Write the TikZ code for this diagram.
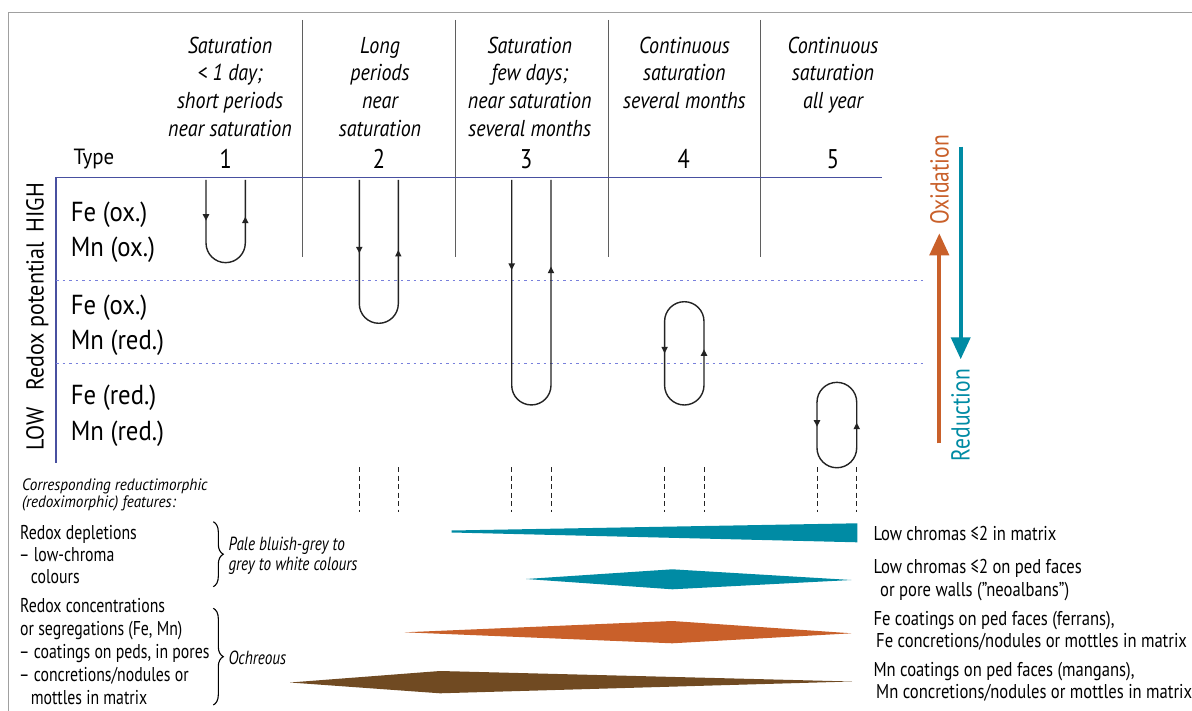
\documentclass[tikz,border=0pt]{standalone}
\usepackage{fontspec}
\setmainfont{PT Sans}[FakeStretch=0.83]
\newfontfamily\leftfont{PT Sans}[FakeStretch=0.79]
\newfontfamily\capfont{PT Sans}[FakeStretch=0.87]
\newfontfamily\smallfont{PT Sans}[FakeStretch=0.92]
\newfontfamily\widefont{PT Sans}[FakeStretch=0.9]
\newfontfamily\typefont{PT Sans}[FakeStretch=0.95]
\newfontfamily\bracefont{PT Sans}[FakeStretch=0.8]
\usetikzlibrary{arrows.meta,decorations.pathreplacing}

\definecolor{framegrey}{RGB}{160,160,160}
\definecolor{divgrey}{RGB}{95,95,95}
\definecolor{axisblue}{RGB}{72,80,160}
\definecolor{dotblue}{RGB}{120,128,220}
\definecolor{loopink}{RGB}{35,35,35}
\definecolor{tealc}{RGB}{0,139,164}
\definecolor{orangec}{RGB}{201,96,42}
\definecolor{brownc}{RGB}{112,74,34}

% small filled arrow tips on the redox loops
\newcommand\looptipdown[2]{\fill[loopink] (#1-3.3,#2-6.5) -- (#1+3.3,#2-6.5) -- (#1,#2) -- cycle;}
\newcommand\looptipup[2]{\fill[loopink] (#1-3.3,#2+6.5) -- (#1+3.3,#2+6.5) -- (#1,#2) -- cycle;}

\begin{document}
\begin{tikzpicture}[x=1pt,y=-1pt,
  hdr/.style={font=\capfont\fontsize{23}{26}\selectfont\itshape, anchor=base, inner sep=0pt},
  num/.style={font=\fontsize{27}{30}\selectfont, anchor=base, inner sep=0pt},
  typelab/.style={font=\typefont\fontsize{22}{26}\selectfont, anchor=base west, inner sep=0pt},
  rowlab/.style={font=\widefont\fontsize{27.5}{30}\selectfont, anchor=base west, inner sep=0pt},
  sidelab/.style={font=\widefont\fontsize{24.5}{27}\selectfont, rotate=90, anchor=base, inner sep=0pt},
  arrlab/.style={font=\fontsize{26}{30}\selectfont, rotate=90, anchor=base, inner sep=0pt},
  note/.style={font=\fontsize{20}{24}\selectfont, anchor=base west, inner sep=0pt},
  lnote/.style={font=\leftfont\fontsize{20}{24}\selectfont, anchor=base west, inner sep=0pt},
  inote/.style={font=\bracefont\fontsize{19}{22}\selectfont\itshape, anchor=base west, inner sep=0pt},
  snote/.style={font=\smallfont\fontsize{16.5}{19}\selectfont\itshape, anchor=base west, inner sep=0pt},
  loopline/.style={draw=loopink, line width=1.4pt},
  dashline/.style={draw=loopink, line width=1pt, dash pattern=on 5pt off 3.5pt},
  divider/.style={draw=divgrey, line width=0.9pt},
  levelline/.style={draw=dotblue, line width=1pt, dash pattern=on 2.5pt off 4pt},
  bigarrow/.style={line width=4pt, -{Triangle[length=22pt,width=19pt]}},
  curly/.style={draw=black, line width=1.1pt, decoration={brace, amplitude=10pt}, decorate}
]
\useasboundingbox (0,0) rectangle (1192,711);
\fill[white] (0,0) rectangle (1192,711);

% outer frame
\draw[framegrey, line width=1.3pt] (8.3,711) -- (8.3,12.5) -- (1192,12.5);

% column dividers
\foreach \xx in {302.3,455,608,760}
  \draw[divider] (\xx,20) -- (\xx,257);

% redox potential axes and level lines
\draw[axisblue, line width=1.3pt] (56,462.7) -- (56,177.3) -- (881.7,177.3);
\draw[levelline] (56,280.5) -- (923,280.5);
\draw[levelline] (56,363.5) -- (923,363.5);

% column headers
\node[hdr] (h1a) at (230,53.3) {Saturation};
\node[hdr] (h1b) at (230,81) {< 1 day;};
\node[hdr] (h1c) at (230,108.7) {short periods};
\node[hdr] (h1d) at (230,136.4) {near saturation};
\node[hdr] (h2a) at (380,53.3) {Long};
\node[hdr] (h2b) at (380,81) {periods};
\node[hdr] (h2c) at (380,108.7) {near};
\node[hdr] (h2d) at (380,136.4) {saturation};
\node[hdr] (h3a) at (529.7,53.3) {Saturation};
\node[hdr] (h3b) at (529.7,81) {few days;};
\node[hdr] (h3c) at (529.7,108.7) {near saturation};
\node[hdr] (h3d) at (529.7,136.4) {several months};
\node[hdr] (h4a) at (684.4,53.3) {Continuous};
\node[hdr] (h4b) at (684.4,81) {saturation};
\node[hdr] (h4c) at (684.4,108.7) {several months};
\node[hdr] (h5a) at (833,53.3) {Continuous};
\node[hdr] (h5b) at (833,81) {saturation};
\node[hdr] (h5c) at (833,108.7) {all year};

% type numbers
\node[typelab] (type) at (73.5,164.5) {Type};
\node[num] (n1) at (225.8,168.3) {1};
\node[num] (n2) at (378.9,168.3) {2};
\node[num] (n3) at (526.2,168.3) {3};
\node[num] (n4) at (683.8,168.3) {4};
\node[num] (n5) at (833,168.3) {5};

% vertical axis label
\node[sidelab] (high) at (43.5,207.5) {HIGH};
\node[sidelab] (redox) at (43.5,316.5) {Redox potential};
\node[sidelab] (low) at (43.5,429) {LOW};

% redox state labels
\node[rowlab] (r1a) at (70.7,221.7) {Fe (ox.)};
\node[rowlab] (r1b) at (70.7,256.7) {Mn (ox.)};
\node[rowlab] (r2a) at (70.7,315) {Fe (ox.)};
\node[rowlab] (r2b) at (70.7,350) {Mn (red.)};
\node[rowlab] (r3a) at (70.7,405) {Fe (red.)};
\node[rowlab] (r3b) at (70.7,440) {Mn (red.)};

% redox cycles, types 1-3 (open loops hanging from the surface)
\draw[loopline] (206,180) -- (206,243) arc[start angle=180, end angle=0, radius=19.65] -- (245.3,180);
\looptipdown{206}{220.7}\looptipup{245.3}{216.7}
\draw[loopline] (359.3,180) -- (359.3,303.8) arc[start angle=180, end angle=0, radius=19.5] -- (398.3,180);
\looptipdown{359.3}{253.3}\looptipup{398.3}{250}
\draw[loopline] (511.7,180) -- (511.7,385.3) arc[start angle=180, end angle=0, radius=19.65] -- (551,180);
\looptipdown{511.7}{270}\looptipup{551}{266.7}

% redox cycles, types 4-5 (closed loops)
\draw[loopline] (664.6,321.4) -- (664.6,385.3) arc[start angle=180, end angle=0, radius=19.7]
  -- (704,321.4) arc[start angle=0, end angle=-180, radius=19.7] -- cycle;
\looptipdown{664.6}{353.3}\looptipup{704}{349.3}
\draw[loopline] (817,402.2) -- (817,447.9) arc[start angle=180, end angle=0, radius=19.85]
  -- (856.7,402.2) arc[start angle=0, end angle=-180, radius=19.85] -- cycle;
\looptipdown{817}{426.7}\looptipup{856.7}{422.7}

% oxidation / reduction arrows
\coordinate (oxA) at (939.3,443.3);
\coordinate (oxB) at (939.3,233.3);
\coordinate (reA) at (960.7,146.7);
\coordinate (reB) at (960.7,359.3);
\draw[bigarrow, orangec] (oxA) -- (oxB);
\draw[bigarrow, tealc] (reA) -- (reB);
\node[arrlab, text=orangec] (oxl) at (948.5,180) {Oxidation};
\node[arrlab, text=tealc] (redl) at (969.5,415) {Reduction};

% dashed guides down to the features
\foreach \xx in {359.3,398.3,511.7,551,664.6,704,817,856.7}
  \draw[dashline] (\xx,467) -- (\xx,512);

% feature list, left
\node[snote] (corr1) at (22,490) {Corresponding reductimorphic};
\node[snote] (corr2) at (22,507.5) {(redoximorphic) features:};
\node[lnote] (dep1) at (20,539) {Redox depletions};
\node[lnote] (dep2) at (19,561.3) {– low-chroma};
\node[lnote] (dep3) at (30.6,583.3) {colours};
\node[lnote] (con1) at (20,612.5) {Redox concentrations};
\node[lnote] (con2) at (20,635.5) {or segregations (Fe, Mn)};
\node[lnote] (con3) at (19,658.5) {– coatings on peds, in pores};
\node[lnote] (con4) at (19,681.5) {– concretions/nodules or};
\node[lnote] (con5) at (30.6,704.5) {mottles in matrix};

% braces and colour descriptions
\draw[curly] (213.3,521.7) -- (213.3,586.7);
\draw[curly] (213.3,608.3) -- (213.3,705);
\node[inote] (pale1) at (228.3,550) {Pale bluish-grey to};
\node[inote] (pale2) at (228.3,570) {grey to white colours};
\node[inote] (ochre) at (228.3,664) {Ochreous};

% feature intensity wedges
\fill[tealc] (451.6,530.5) -- (857.3,523.3) -- (857.3,542.3) -- (451.6,532.5) -- cycle;
\fill[tealc] (526,579) -- (672.3,569.3) -- (851.4,580) -- (672.3,589.3) -- cycle;
\fill[orangec] (404.5,632.3) -- (672.3,621) -- (851.4,633.3) -- (672.3,643.3) -- cycle;
\fill[brownc] (290,682.5) -- (440,671) -- (852,681.5) -- (440,693.3) -- cycle;

% feature list, right
\node[note] (f1) at (873.3,540) {Low chromas ≤2 in matrix};
\node[note] (f2a) at (873.3,573.3) {Low chromas ≤2 on ped faces};
\node[note] (f2b) at (880,596) {or pore walls (”neoalbans”)};
\node[note] (f3a) at (873.3,625) {Fe coatings on ped faces (ferrans),};
\node[note] (f3b) at (876,647.7) {Fe concretions/nodules or mottles in matrix};
\node[note] (f4a) at (873.3,676) {Mn coatings on ped faces (mangans),};
\node[note] (f4b) at (876,698.3) {Mn concretions/nodules or mottles in matrix};
\end{tikzpicture}
\end{document}
